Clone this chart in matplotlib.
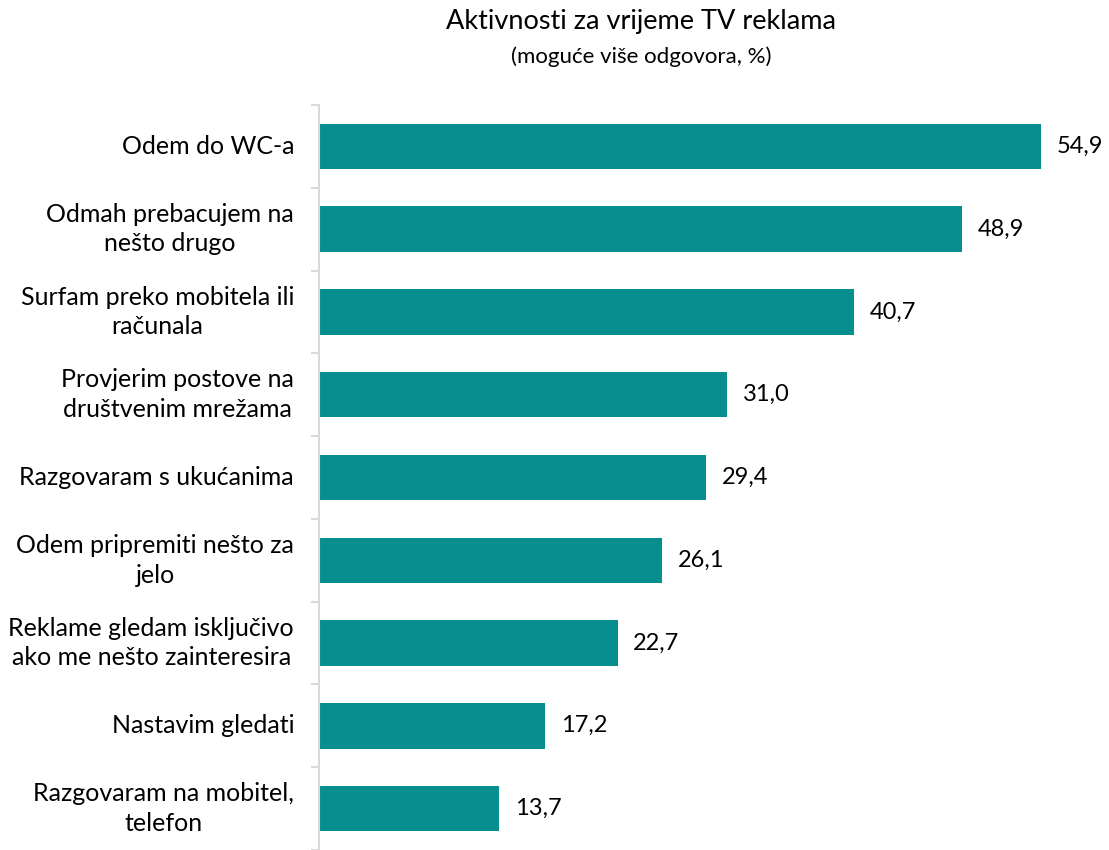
import numpy as np
import matplotlib
matplotlib.use('Agg')
import matplotlib.pyplot as plt

# Data
categories = [
    'Odem do WC-a',
    'Odmah prebacujem na\nnešto drugo',
    'Surfam preko mobitela ili\nračunala',
    'Provjerim postove na\ndruštvenim mrežama',
    'Razgovaram s ukućanima',
    'Odem pripremiti nešto za\njelo',
    'Reklame gledam isključivo\nako me nešto zainteresira',
    'Nastavim gledati',
    'Razgovaram na mobitel,\ntelefon',
]
values = [54.9, 48.9, 40.7, 31.0, 29.4, 26.1, 22.7, 17.2, 13.7]

bar_color = '#078F8F'
plt.rcParams['font.family'] = ['Lato', 'DejaVu Sans']

fig = plt.figure(figsize=(11.09, 8.5), dpi=100)
ax = fig.add_axes([319 / 1109, 0.0, 789 / 1109, 745 / 850])

y = np.arange(len(categories))
ax.barh(y, values, height=0.55, color=bar_color)
ax.set_ylim(len(categories) - 0.5, -0.5)
ax.set_xlim(0, 60)

# Value labels
for yi, v in zip(y, values):
    ax.text(v + 1.2, yi, f'{v:.1f}'.replace('.', ','), va='center', ha='left',
            fontsize=17, color='black')

# Category labels, centered lines
for yi, c in zip(y, categories):
    ax.text(-1.9, yi, c, va='center', ha='right', multialignment='center',
            fontsize=18, linespacing=1.35, color='black', clip_on=False)

# Axis styling: only left spine, ticks at category boundaries
for s in ['top', 'right', 'bottom']:
    ax.spines[s].set_visible(False)
ax.spines['left'].set_color('#D9D9D9')
ax.spines['left'].set_linewidth(1.5)
ax.set_xticks([])
ax.set_yticks(np.arange(-0.5, len(categories), 1.0))
ax.set_yticklabels([])
ax.tick_params(axis='y', length=6, width=1.5, color='#D9D9D9')

# Title
fig.text(641 / 1109, 1 - 22 / 850, 'Aktivnosti za vrijeme TV reklama',
         ha='center', va='center', fontsize=19.5)
fig.text(641 / 1109, 1 - 57 / 850, '(moguće više odgovora, %)',
         ha='center', va='center', fontsize=16)

plt.savefig('out.png', dpi=100)
